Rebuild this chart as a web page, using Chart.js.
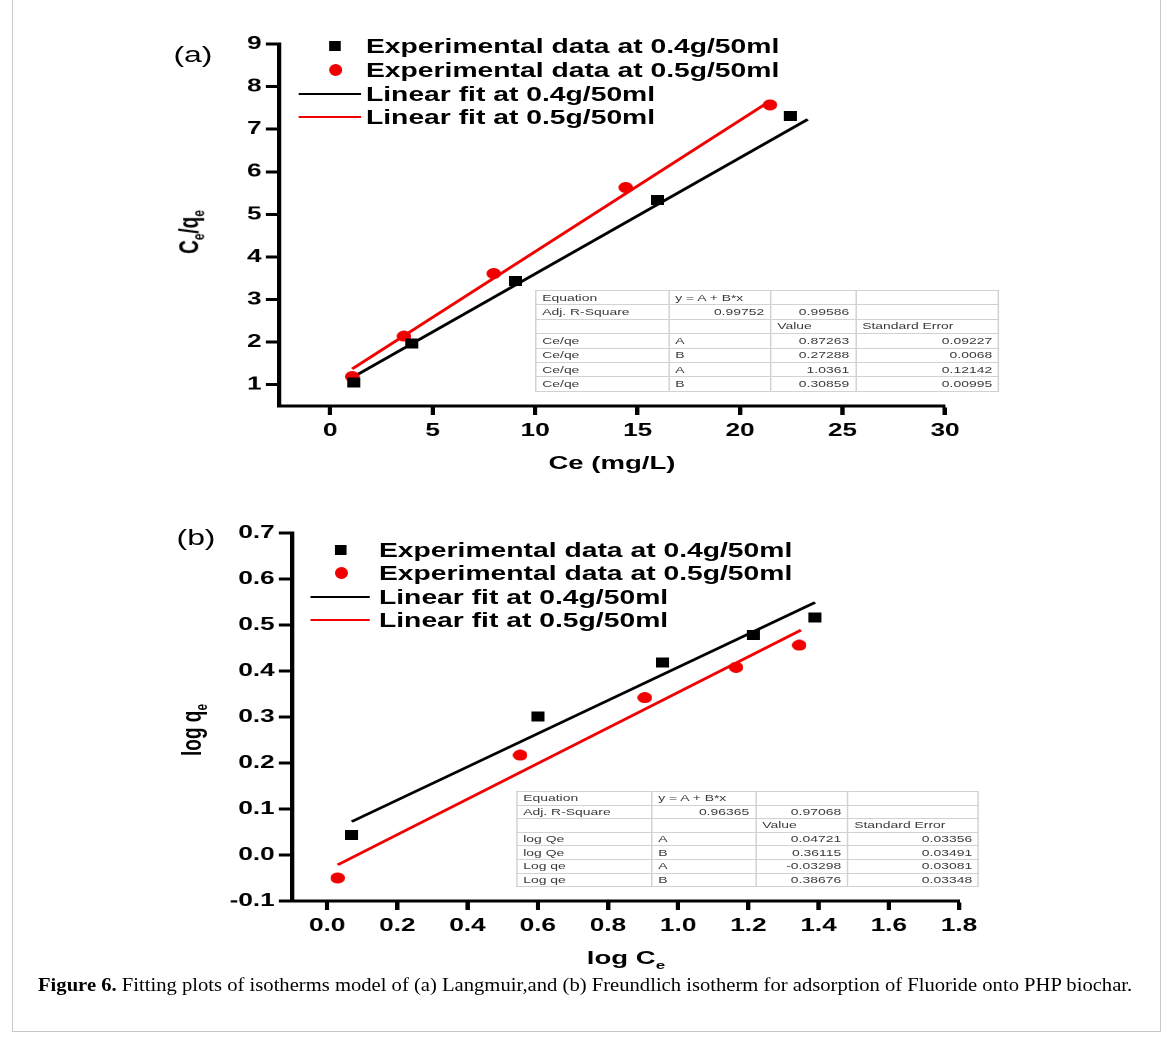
<!DOCTYPE html>
<html lang="en">
<head>
<meta charset="UTF-8">
<title>Figure 6 - Langmuir and Freundlich isotherms</title>
<script src="https://cdn.jsdelivr.net/npm/chart.js"></script>
<style>
  html, body { margin: 0; padding: 0; background: #fff; }
  body { width: 1171px; height: 1041px; position: relative; overflow: hidden;
         font-family: "Liberation Sans", Arial, sans-serif; color: #000; }
  .frame { position: absolute; left: 12px; top: -2px; width: 1147px; height: 1032px; border: 1px solid #c8c8c8; }
  /* the original figure is stretched sideways, so each panel is drawn narrow and widened */
  .panel { position: absolute; left: 0; width: 808px; height: 500px; transform-origin: 0 0; }
  .panel canvas { position: absolute; left: 0; top: 0; }
  .tag { position: absolute; font-size: 22px; transform: translate(-50%, -50%); white-space: nowrap; }
  .xt { position: absolute; font-weight: bold; font-size: 19px; transform: translate(-50%, -50%); white-space: nowrap; }
  .yt { position: absolute; font-weight: bold; font-size: 19px; transform: translate(-50%, -50%) rotate(-90deg); white-space: nowrap; }
  .xt sub, .yt sub { font-size: 62%; vertical-align: -0.35em; }
  .lg-text { position: absolute; font-weight: bold; font-size: 19.5px; transform: translateY(-50%); white-space: nowrap; }
  .lg-mark, .lg-line { position: absolute; }
  table.fit { position: absolute; border-collapse: collapse; table-layout: fixed; font-size: 9.6px; color: #3a3a3a;
              border: 1px solid #a0a0a0; }
  table.fit td { border: 1px solid #d2d2d2; padding: 0 4px; white-space: nowrap; overflow: hidden; line-height: 10px; }
  .caption { position: absolute; left: 38px; top: 975px; font-family: "Liberation Serif", "DejaVu Serif", serif;
             font-size: 18px; white-space: nowrap; transform-origin: 0 0; }
</style>
</head>
<body>
<div class="frame"></div>

<div class="panel" id="panelA" style="top:0px">
  <canvas id="chartA"></canvas>
</div>
<div class="panel" id="panelB" style="top:490px">
  <canvas id="chartB"></canvas>
</div>

<div class="caption" id="caption"><b>Figure 6.</b> Fitting plots of isotherms model of (a) Langmuir,and (b) Freundlich isotherm for adsorption of Fluoride onto PHP biochar.</div>

<script>
// ---- data ----
// (a) Langmuir: Ce vs Ce/qe
const ceA04 = [1.15, 3.98, 9.03, 15.98, 22.45];
const ceqeA04 = [1.05, 1.97, 3.43, 5.34, 7.31];
const ceA05 = [1.07, 3.6, 7.98, 14.42, 21.46];
const ceqeA05 = [1.19, 2.14, 3.61, 5.63, 7.57];
// linear fit end points
const fitXA04 = [1.15, 23.3];
const fitYA04 = [1.19, 7.23];
const fitXA05 = [1.07, 21.46];
const fitYA05 = [1.37, 7.66];

// (b) Freundlich: log Ce vs log qe
const logCeB04 = [0.07, 0.60, 0.955, 1.215, 1.39];
const logQeB04 = [0.043, 0.301, 0.419, 0.478, 0.516];
const logCeB05 = [0.03, 0.55, 0.905, 1.165, 1.345];
const logQeB05 = [-0.05, 0.217, 0.342, 0.408, 0.456];
const fitXB04 = [0.07, 1.39];
const fitYB04 = [0.0725, 0.549];
const fitXB05 = [0.03, 1.35];
const fitYB05 = [-0.0214, 0.489];

const seriesLabels = [
  'Experimental data at 0.4g/50ml',
  'Experimental data at 0.5g/50ml',
  'Linear fit at 0.4g/50ml',
  'Linear fit at 0.5g/50ml'
];

const xTicksA = [0, 5, 10, 15, 20, 25, 30];
const yTicksA = [1, 2, 3, 4, 5, 6, 7, 8, 9];
const xTicksB = [0, 0.2, 0.4, 0.6, 0.8, 1.0, 1.2, 1.4, 1.6, 1.8];
const yTicksB = [-0.1, 0, 0.1, 0.2, 0.3, 0.4, 0.5, 0.6, 0.7];

const tableA = [
  ['Equation', 'y = A + B*x', '', ''],
  ['Adj. R-Square', '0.99752', '0.99586', ''],
  ['', '', 'Value', 'Standard Error'],
  ['Ce/qe', 'A', '0.87263', '0.09227'],
  ['Ce/qe', 'B', '0.27288', '0.0068'],
  ['Ce/qe', 'A', '1.0361', '0.12142'],
  ['Ce/qe', 'B', '0.30859', '0.00995']
];
const tableB = [
  ['Equation', 'y = A + B*x', '', ''],
  ['Adj. R-Square', '0.96365', '0.97068', ''],
  ['', '', 'Value', 'Standard Error'],
  ['log Qe', 'A', '0.04721', '0.03356'],
  ['log Qe', 'B', '0.36115', '0.03491'],
  ['Log qe', 'A', '-0.03298', '0.03081'],
  ['Log qe', 'B', '0.38676', '0.03348']
];

// ---- layout ----
const S = 1.45;               // sideways stretch
const u = v => v / S;         // page x -> panel x
const FONT = '"Liberation Sans", Arial, sans-serif';
const RED = '#f00000';

function pts(xs, ys) { return xs.map((x, i) => ({ x: x, y: ys[i] })); }

// marker picture (drawn at 4x, shown at w x h) so it keeps its shape after the stretch
function makeMarker(shape, w, h, color) {
  const k = 4;
  const c = document.createElement('canvas');
  c.width = Math.round(w * k); c.height = Math.round(h * k);
  const g = c.getContext('2d');
  g.fillStyle = color;
  if (shape === 'rect') g.fillRect(0, 0, c.width, c.height);
  else { g.beginPath(); g.ellipse(c.width / 2, c.height / 2, c.width / 2, c.height / 2, 0, 0, Math.PI * 2); g.fill(); }
  const img = new Image(w, h);
  return new Promise(res => { img.onload = () => res(img); img.src = c.toDataURL(); });
}

function axis(min, max, ticks, dec, isX) {
  return {
    type: 'linear', min: min, max: max, position: isX ? 'bottom' : 'left',
    border: { display: true, color: '#000', width: 3 },
    grid: { drawOnChartArea: false, drawTicks: true, tickLength: 9, tickWidth: 3, tickColor: '#000' },
    ticks: {
      color: '#000', padding: isX ? 5 : 3, autoSkip: false, maxRotation: 0,
      font: { family: FONT, size: 18, weight: 'bold' },
      callback: v => Number(v).toFixed(dec)
    },
    afterBuildTicks: s => { s.ticks = ticks.map(v => ({ value: v })); },
    afterFit: s => { if (isX) s.height = 40; else s.width = 52; }
  };
}

function buildChart(id, c, sq, dot) {
  return new Chart(document.getElementById(id), {
    type: 'scatter',
    data: {
      datasets: [
        { label: seriesLabels[0], data: pts(c.x1, c.y1), pointStyle: sq, pointRadius: 6,
          backgroundColor: '#000', borderColor: '#000', borderWidth: 0, order: 0 },
        { label: seriesLabels[1], data: pts(c.x2, c.y2), pointStyle: dot, pointRadius: 6,
          backgroundColor: RED, borderColor: RED, borderWidth: 0, order: 0 },
        { label: seriesLabels[2], data: pts(c.fx1, c.fy1), showLine: true, pointRadius: 0,
          borderColor: '#000', borderWidth: 2.5, order: 1 },
        { label: seriesLabels[3], data: pts(c.fx2, c.fy2), showLine: true, pointRadius: 0,
          borderColor: RED, borderWidth: 2.5, order: 1 }
      ]
    },
    options: {
      responsive: true, maintainAspectRatio: false, animation: false, devicePixelRatio: 2,
      layout: { padding: c.pad },
      plugins: { legend: { display: false }, tooltip: { enabled: false } },
      scales: {
        x: axis(c.xMin, c.xMax, c.xTicks, c.dec, true),
        y: axis(c.yMin, c.yMax, c.yTicks, c.dec, false)
      }
    }
  });
}

function addLegend(panel, chart, rows, lx0, lx1, mx, tx) {
  chart.data.datasets.forEach((ds, i) => {
    const y = rows[i];
    if (ds.showLine) {
      const d = document.createElement('div');
      d.className = 'lg-line';
      d.style.cssText = `left:${u(lx0)}px;width:${u(lx1) - u(lx0)}px;top:${y - 1.25}px;height:2.5px;background:${ds.borderColor}`;
      panel.appendChild(d);
    } else {
      const d = document.createElement('div');
      const sq = i === 0;
      const w = sq ? 7.5 : 9, h = sq ? 10 : 12;
      d.className = 'lg-mark';
      d.style.cssText = `left:${u(mx) - w / 2}px;top:${y - h / 2}px;width:${w}px;height:${h}px;` +
        `background:${ds.backgroundColor};border-radius:${sq ? 0 : '50%'}`;
      panel.appendChild(d);
    }
    const t = document.createElement('div');
    t.className = 'lg-text';
    t.style.left = u(tx) + 'px';
    t.style.top = y + 'px';
    t.textContent = ds.label;
    panel.appendChild(t);
  });
}

function addTable(panel, rows, left, top, widths, rowH) {
  const tb = document.createElement('table');
  tb.className = 'fit';
  tb.style.left = u(left) + 'px';
  tb.style.top = top + 'px';
  const cg = document.createElement('colgroup');
  widths.forEach(w => { const col = document.createElement('col'); col.style.width = u(w) + 'px'; cg.appendChild(col); });
  tb.appendChild(cg);
  tb.style.width = u(widths.reduce((a, b) => a + b, 0)) + 'px';
  rows.forEach(r => {
    const tr = document.createElement('tr');
    tr.style.height = rowH + 'px';
    r.forEach(txt => {
      const td = document.createElement('td');
      td.textContent = txt;
      td.style.textAlign = (txt !== '' && !isNaN(parseFloat(txt))) ? 'right' : 'left';
      tr.appendChild(td);
    });
    tb.appendChild(tr);
  });
  panel.appendChild(tb);
}

function addText(panel, cls, html, x, y) {
  const d = document.createElement('div');
  d.className = cls;
  d.innerHTML = html;
  d.style.left = u(x) + 'px';
  d.style.top = y + 'px';
  panel.appendChild(d);
}

const panelA = document.getElementById('panelA');
const panelB = document.getElementById('panelB');
[panelA, panelB].forEach(p => { p.style.transform = `scaleX(${S})`; });

// caption fitted to its width in the figure
const cap = document.getElementById('caption');
cap.style.transform = `scaleX(${1094 / cap.offsetWidth})`;

Promise.all([makeMarker('rect', 9.5, 10, '#000'), makeMarker('circle', 10.3, 11.5, RED)]).then(([sq, dot]) => {
  // panel (a): plot area on the page x 279..945, y 44..406
  const chartA = buildChart('chartA', {
    x1: ceA04, y1: ceqeA04, x2: ceA05, y2: ceqeA05,
    fx1: fitXA04, fy1: fitYA04, fx2: fitXA05, fy2: fitYA05,
    xMin: -2.5, xMax: 30, yMin: 0.5, yMax: 9, xTicks: xTicksA, yTicks: yTicksA, dec: 0,
    pad: { left: u(279) - 52, right: 808 - u(945), top: 44, bottom: 500 - 406 - 40 }
  }, sq, dot);
  addLegend(panelA, chartA, [46, 70, 94, 117], 299, 361, 335, 366);
  addTable(panelA, tableA, 535, 290, [133, 102, 85, 143], 14.4);
  addText(panelA, 'tag', '(a)', 193, 55);
  addText(panelA, 'xt', 'Ce (mg/L)', 612, 463);
  addText(panelA, 'yt', 'C<sub>e</sub>/q<sub>e</sub>', 190, 232);

  // panel (b): plot area on the page x 292..959, y 533..901
  const chartB = buildChart('chartB', {
    x1: logCeB04, y1: logQeB04, x2: logCeB05, y2: logQeB05,
    fx1: fitXB04, fy1: fitYB04, fx2: fitXB05, fy2: fitYB05,
    xMin: -0.1, xMax: 1.8, yMin: -0.1, yMax: 0.7, xTicks: xTicksB, yTicks: yTicksB, dec: 1,
    pad: { left: u(292) - 52, right: 808 - u(959), top: 43, bottom: 500 - 411 - 40 }
  }, sq, dot);
  addLegend(panelB, chartB, [60, 83, 107, 130], 311, 370, 341, 379);
  addTable(panelB, tableB, 516, 301, [135, 104, 92, 131], 13.6);
  addText(panelB, 'tag', '(b)', 196, 48);
  addText(panelB, 'xt', 'log C<sub>e</sub>', 626, 469);
  addText(panelB, 'yt', 'log q<sub>e</sub>', 193, 240);
});
</script>
</body>
</html>
